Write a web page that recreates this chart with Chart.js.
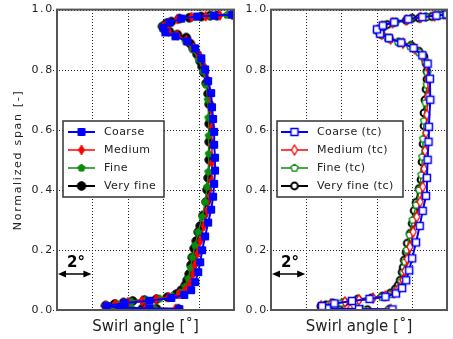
<!DOCTYPE html>
<html>
<head>
<meta charset="utf-8">
<script src="https://cdn.jsdelivr.net/npm/chart.js@4/dist/chart.umd.min.js"></script>
<style>
  html, body { margin: 0; padding: 0; background: #fff; }
  #wrap { position: relative; width: 453px; height: 339px; overflow: hidden; }
  canvas { position: absolute; top: 0; }
</style>
</head>
<body>
<div id="wrap">
  <canvas id="leftChart" width="240" height="339" style="left:0"></canvas>
  <canvas id="rightChart" width="213" height="339" style="left:240px"></canvas>
</div>
<script>
// swirl angle [deg, relative to left edge] vs normalized span
const coarseAngle = [6.91,5.22,3.54,2.81,3.82,5.22,6.46,7.19,7.58,7.81,7.98,8.09,8.20,8.37,8.54,8.71,8.82,8.88,8.93,8.93,8.88,8.88,8.82,8.76,8.71,8.54,8.37,8.15,7.81,7.36,6.69,6.12,6.01,6.35,7.02,7.92,8.88,9.89];
const coarseSpan = [0.003,0.005,0.008,0.013,0.023,0.031,0.040,0.050,0.066,0.093,0.126,0.159,0.199,0.245,0.291,0.334,0.377,0.420,0.464,0.507,0.550,0.593,0.636,0.675,0.722,0.762,0.801,0.838,0.871,0.894,0.911,0.924,0.940,0.957,0.970,0.977,0.980,0.983];

const mediumAngle = [6.7,5.0,3.5,2.75,3.3,4.0,4.8,5.6,6.3,6.9,7.3,7.55,7.7,7.8,7.95,8.1,8.3,8.5,8.65,8.72,8.75,8.76,8.74,8.7,8.62,8.48,8.3,8.05,7.7,7.3,6.8,6.3,6.0,6.25,6.8,7.6,8.4,9.2,9.9];
const mediumSpan = [0.004,0.006,0.009,0.014,0.020,0.026,0.031,0.036,0.043,0.053,0.070,0.090,0.120,0.150,0.190,0.230,0.280,0.330,0.380,0.430,0.490,0.550,0.610,0.670,0.720,0.770,0.810,0.845,0.873,0.898,0.915,0.928,0.943,0.956,0.968,0.975,0.978,0.981,0.983];

const fineAngle = [6.8,5.5,4.2,3.2,2.8,3.4,4.2,5.0,5.8,6.5,6.95,7.25,7.42,7.55,7.65,7.8,7.98,8.2,8.38,8.48,8.55,8.58,8.57,8.55,8.52,8.42,8.25,8.0,7.65,7.25,6.7,6.2,5.98,6.3,7.0,7.8,8.7,9.6];
const fineSpan = [0.004,0.005,0.007,0.011,0.015,0.021,0.028,0.033,0.038,0.046,0.058,0.078,0.105,0.140,0.175,0.215,0.260,0.310,0.360,0.410,0.460,0.520,0.580,0.640,0.700,0.750,0.795,0.835,0.868,0.895,0.914,0.930,0.944,0.958,0.969,0.975,0.979,0.982];

const veryFineAngle = [6.85,5.62,4.83,3.99,3.26,2.75,3.26,3.76,4.27,4.94,5.62,6.24,6.74,7.02,7.25,7.36,7.47,7.58,7.64,7.75,7.87,7.98,8.09,8.26,8.43,8.48,8.54,8.60,8.60,8.60,8.60,8.54,8.43,8.31,8.20,8.09,7.92,7.70,7.53,7.30,6.80,6.35,6.07,5.96,6.18,6.46,6.91,7.47,8.15,8.65,9.04,9.97];
const veryFineSpan = [0.004,0.004,0.005,0.007,0.010,0.015,0.020,0.025,0.030,0.033,0.036,0.043,0.053,0.066,0.083,0.100,0.120,0.150,0.175,0.205,0.230,0.260,0.280,0.315,0.360,0.400,0.440,0.500,0.560,0.620,0.685,0.720,0.755,0.790,0.810,0.828,0.851,0.871,0.887,0.907,0.917,0.927,0.934,0.944,0.954,0.960,0.970,0.973,0.977,0.980,0.980,0.983];

// tip clearance runs
const coarseTcAngle = [6.9,5.0,3.2,2.9,3.6,4.6,5.6,6.5,7.1,7.45,7.68,7.85,8.02,8.24,8.45,8.62,8.81,8.86,8.9,8.95,8.97,9.05,9.03,8.9,8.6,8.1,7.4,6.7,6.2,6.02,6.35,7.0,7.8,8.6,9.4,9.98];
const coarseTcSpan = [0.002,0.003,0.005,0.013,0.022,0.030,0.037,0.044,0.055,0.073,0.099,0.132,0.172,0.225,0.280,0.330,0.380,0.440,0.500,0.560,0.610,0.700,0.770,0.820,0.848,0.872,0.890,0.905,0.920,0.934,0.947,0.958,0.968,0.975,0.980,0.984];

const mediumTcAngle = [6.8,4.5,3.0,2.85,3.4,4.2,5.0,5.8,6.5,7.0,7.3,7.5,7.62,7.75,7.9,8.08,8.28,8.48,8.62,8.7,8.75,8.8,8.85,8.9,8.92,8.85,8.6,8.15,7.5,6.8,6.3,6.05,6.3,6.9,7.7,8.5,9.3,9.98];
const mediumTcSpan = [0.002,0.003,0.006,0.014,0.020,0.027,0.034,0.040,0.047,0.058,0.075,0.100,0.130,0.170,0.210,0.260,0.310,0.360,0.410,0.470,0.530,0.590,0.650,0.710,0.770,0.815,0.845,0.870,0.888,0.902,0.918,0.932,0.945,0.956,0.966,0.974,0.979,0.983];

const fineTcAngle = [6.7,5.2,3.6,2.9,3.3,4.0,4.8,5.6,6.3,6.85,7.2,7.4,7.52,7.62,7.72,7.88,8.05,8.25,8.42,8.55,8.6,8.65,8.7,8.78,8.85,8.88,8.75,8.4,7.9,7.2,6.6,6.2,6.08,6.4,7.1,7.9,8.8,9.6];
const fineTcSpan = [0.002,0.002,0.004,0.012,0.018,0.024,0.031,0.037,0.043,0.053,0.070,0.095,0.125,0.160,0.200,0.250,0.300,0.350,0.400,0.450,0.510,0.570,0.630,0.690,0.750,0.790,0.830,0.858,0.878,0.893,0.907,0.922,0.936,0.949,0.960,0.969,0.976,0.981];

const veryFineTcAngle = [6.72,5.48,3.90,2.95,2.83,3.12,3.51,4.19,4.92,5.71,6.33,6.78,7.06,7.23,7.34,7.45,7.51,7.57,7.68,7.74,7.91,8.02,8.13,8.24,8.41,8.52,8.58,8.64,8.69,8.69,8.75,8.81,8.86,8.86,8.81,8.69,8.41,7.96,7.28,6.72,6.27,6.05,6.33,6.61,7.00,7.68,8.02,8.41,8.81,9.14,9.48,9.82];
const veryFineTcSpan = [0.002,0.001,0.001,0.003,0.013,0.017,0.023,0.026,0.036,0.040,0.046,0.056,0.070,0.083,0.099,0.126,0.142,0.166,0.192,0.222,0.255,0.288,0.331,0.358,0.404,0.434,0.493,0.553,0.613,0.656,0.699,0.735,0.768,0.795,0.821,0.844,0.861,0.881,0.891,0.904,0.917,0.930,0.940,0.950,0.957,0.964,0.971,0.971,0.975,0.977,0.980,0.983];

const FONT = '"DejaVu Sans", Verdana, sans-serif';
const BLUE = '#0000ff', RED = '#ff0000', GREEN = '#0b8a0b', BLACK = '#000000';

// small canvases used as point styles
function marker(shape, fill, stroke, lw) {
    const c = document.createElement('canvas');
    c.width = 14;
    c.height = 14;
    const g = c.getContext('2d');
    g.translate(7, 7);
    g.beginPath();
    if (shape === 'square') {
        g.rect(-3.5, -3.5, 7, 7);
    } else if (shape === 'diamond') {
        g.moveTo(0, -5); g.lineTo(3, 0); g.lineTo(0, 5); g.lineTo(-3, 0); g.closePath();
    } else if (shape === 'pentagon') {
        for (let i = 0; i < 5; i++) {
            const a = -Math.PI / 2 + i * 2 * Math.PI / 5;
            g.lineTo(3.8 * Math.cos(a), 3.8 * Math.sin(a));
        }
        g.closePath();
    } else {
        g.arc(0, 0, shape === 'bigcircle' ? 4.3 : 3.4, 0, Math.PI * 2);
    }
    g.fillStyle = fill;
    g.fill();
    g.lineWidth = lw;
    g.strokeStyle = stroke;
    g.stroke();
    return c;
}

function series(label, angle, span, color, lw, style) {
    return {
        label,
        data: angle.map((a, i) => ({ x: a, y: span[i] })),
        showLine: true,
        borderColor: color,
        backgroundColor: color,
        borderWidth: lw,
        pointStyle: style,
        pointRadius: 4,
        tension: 0,
    };
}

const spacing = {
    id: 'spacing',
    beforeDraw(chart) {
        chart.ctx.letterSpacing = '1.7px';
    },
};

// dotted grid at the scale ticks, drawn as single pixel dots
const dottedGrid = {
    id: 'dottedGrid',
    beforeDatasetsDraw(chart) {
        const { ctx, chartArea: a, scales: { x, y } } = chart;
        ctx.save();
        ctx.fillStyle = '#222';
        x.ticks.forEach((t) => {
            const px = Math.round(x.getPixelForValue(t.value));
            for (let py = Math.round(a.top); py < a.bottom; py += 3) ctx.fillRect(px, py, 1, 1);
        });
        y.ticks.forEach((t) => {
            const py = Math.round(y.getPixelForValue(t.value));
            for (let px = Math.round(a.left) - 4; px < a.right; px += 3) ctx.fillRect(px, py, 1, 1);
        });
        ctx.restore();
    },
};

const decor = {
    id: 'decor',
    afterDraw(chart, args, opts) {
        const ctx = chart.ctx;
        const area = chart.chartArea;
        ctx.save();

        // frame
        ctx.strokeStyle = '#555';
        ctx.lineWidth = 2;
        ctx.strokeRect(area.left, area.top, area.right - area.left, area.bottom - area.top);

        // x title
        ctx.letterSpacing = '0px';
        ctx.fillStyle = '#222';
        ctx.font = '15px ' + FONT;
        ctx.textAlign = 'center';
        ctx.textBaseline = 'alphabetic';
        ctx.fillText('Swirl angle [˚]', (area.left + area.right) / 2, 331);

        // 2 degree marker
        const x0 = chart.scales.x.getPixelForValue(0);
        const x1 = chart.scales.x.getPixelForValue(2);
        ctx.font = 'bold 15px ' + FONT;
        ctx.fillStyle = '#000';
        ctx.textAlign = 'left';
        ctx.fillText('2°', x0 + 10, 267);
        ctx.strokeStyle = '#000';
        ctx.lineWidth = 1.5;
        ctx.beginPath();
        ctx.moveTo(x0 + 3, 274);
        ctx.lineTo(x1 - 3, 274);
        ctx.stroke();
        ctx.fillStyle = '#000';
        ctx.beginPath();
        ctx.moveTo(x0 + 1, 274); ctx.lineTo(x0 + 9, 270.5); ctx.lineTo(x0 + 9, 277.5); ctx.closePath();
        ctx.moveTo(x1 - 1, 274); ctx.lineTo(x1 - 9, 270.5); ctx.lineTo(x1 - 9, 277.5); ctx.closePath();
        ctx.fill();

        // legend box
        ctx.fillStyle = '#fff';
        ctx.fillRect(opts.x, opts.y, opts.w, opts.h);
        ctx.strokeStyle = '#333';
        ctx.lineWidth = 1.5;
        ctx.strokeRect(opts.x, opts.y, opts.w, opts.h);
        ctx.letterSpacing = '0.4px';
        ctx.font = '11px ' + FONT;
        ctx.textBaseline = 'middle';
        chart.data.datasets.forEach((ds, i) => {
            const y = opts.y + 11 + i * 18;
            ctx.strokeStyle = ds.borderColor;
            ctx.lineWidth = ds.borderWidth;
            ctx.beginPath();
            ctx.moveTo(opts.x + opts.lineFrom, y);
            ctx.lineTo(opts.x + opts.lineTo, y);
            ctx.stroke();
            const mx = opts.x + (opts.lineFrom + opts.lineTo) / 2;
            ctx.drawImage(ds.pointStyle, mx - 7, y - 7);
            ctx.fillStyle = '#222';
            ctx.fillText(ds.label, opts.x + opts.textAt, y + 0.5);
        });
        ctx.restore();
    },
};

function makeChart(id, datasets, yWidth, padRight, showTitle, legendOpts) {
    return new Chart(document.getElementById(id), {
        type: 'scatter',
        data: { datasets },
        plugins: [spacing, dottedGrid, decor],
        options: {
            responsive: false,
            animation: false,
            layout: { padding: { top: 8, right: padRight, bottom: 0, left: 0 } },
            scales: {
                x: {
                    min: 0,
                    max: 10,
                    ticks: { display: false, stepSize: 2 },
                    grid: { display: false, drawTicks: false },
                    border: { display: false },
                    afterFit: (s) => { s.height = 29; },
                },
                y: {
                    min: 0,
                    max: 1,
                    ticks: {
                        stepSize: 0.2,
                        padding: 3,
                        color: '#222',
                        font: { family: FONT, size: 11 },
                        callback: (v) => v.toFixed(1),
                    },
                    grid: { display: false, drawTicks: false },
                    border: { display: false },
                    title: {
                        display: showTitle,
                        text: 'Normalized span [-]',
                        color: '#222',
                        font: { family: FONT, size: 11 },
                        padding: { top: 12, bottom: 0 },
                    },
                    afterFit: (s) => { s.width = yWidth; },
                },
            },
            plugins: {
                legend: { display: false },
                tooltip: { enabled: false },
                decor: legendOpts,
            },
        },
    });
}

makeChart('leftChart', [
    series('Coarse', coarseAngle, coarseSpan, BLUE, 2, marker('square', BLUE, BLUE, 1)),
    series('Medium', mediumAngle, mediumSpan, RED, 1.5, marker('diamond', RED, RED, 1)),
    series('Fine', fineAngle, fineSpan, GREEN, 1.5, marker('pentagon', GREEN, GREEN, 1)),
    series('Very fine', veryFineAngle, veryFineSpan, BLACK, 2, marker('bigcircle', BLACK, BLACK, 1)),
], 57, 5, true, { x: 63, y: 121, w: 101, h: 76, lineFrom: 5, lineTo: 32, textAt: 41 });

makeChart('rightChart', [
    series('Coarse (tc)', coarseTcAngle, coarseTcSpan, BLUE, 2, marker('square', '#fff', BLUE, 1.5)),
    series('Medium (tc)', mediumTcAngle, mediumTcSpan, RED, 1.5, marker('diamond', '#fff', RED, 1.3)),
    series('Fine (tc)', fineTcAngle, fineTcSpan, GREEN, 1.5, marker('pentagon', '#fff', GREEN, 1.3)),
    series('Very fine (tc)', veryFineTcAngle, veryFineTcSpan, BLACK, 2, marker('circle', '#fff', BLACK, 2)),
], 31, 4, false, { x: 37, y: 121, w: 126, h: 76, lineFrom: 4, lineTo: 31, textAt: 40 });
</script>
</body>
</html>
